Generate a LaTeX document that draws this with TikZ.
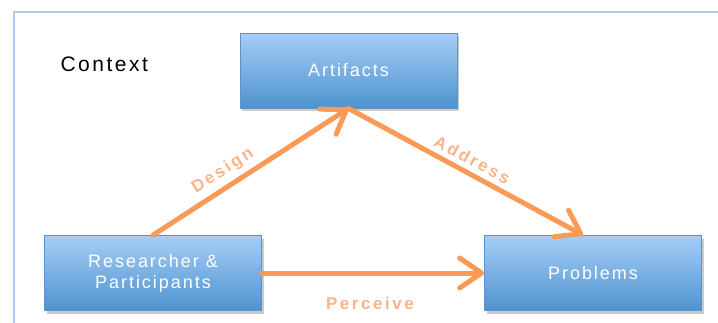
\documentclass[tikz,border=0pt]{standalone}
\usepackage{fontspec}
\setmainfont{Liberation Sans}
\newfontfamily\spaced[LetterSpace=11]{Liberation Sans}
\newfontfamily\spacedc[LetterSpace=12]{Liberation Sans}
\newfontfamily\spacedb[LetterSpace=15]{Liberation Sans Bold}
\usetikzlibrary{arrows.meta,shadows,calc}
\definecolor{framec}{HTML}{A9CCEC}
\definecolor{boxtop}{HTML}{A6CDF6}
\definecolor{boxbot}{HTML}{4E93CF}
\definecolor{boxedge}{HTML}{5E93C8}
\definecolor{arrowc}{HTML}{F99A56}
\definecolor{labelc}{HTML}{F8B48A}
\tikzset{
  bluebox/.style={draw=boxedge, line width=0.8pt, top color=boxtop, bottom color=boxbot,
    minimum width=217pt, minimum height=75pt, inner sep=0pt, text=white,
    font=\spaced\fontsize{18}{21}\selectfont, align=center,
    drop shadow={shadow xshift=2pt, shadow yshift=-3pt, opacity=0.35, fill=black!60}},
  flow/.style={draw=arrowc, line width=5pt, line cap=round,
    -{Straight Barb[length=22pt,width=30pt,line width=5pt,round]}},
  lbl/.style={text=labelc, font=\spacedb\fontsize{17}{19}\selectfont, inner sep=0pt}
}
\begin{document}
\begin{tikzpicture}[x=1pt,y=-1pt]
\useasboundingbox (0,0) rectangle (718,322);
\draw[framec, line width=2.5pt] (14,340) -- (14,12) -- (740,12);
\node[font=\spacedc\fontsize{21}{24}\selectfont, anchor=base west] (ctx) at (57,71) {Context};
\node[bluebox] (art) at (348.5,70.5) {Artifacts};
\node[bluebox] (res) at (153,273) {Researcher \&\\Participants};
\node[bluebox] (prob) at (593,273) {Problems};
\coordinate (addend) at ([xshift=-10pt]prob.north);
\draw[flow] (res.north) -- node[lbl, sloped, above=5pt, pos=0.4] (design) {Design} (art.south);
\draw[flow] (art.south) -- node[lbl, sloped, above=5pt, pos=0.5] (address) {Address} (addend);
\draw[flow] (res.east) -- (prob.west);
\node[lbl] (perceive) at (370,303) {Perceive};
\end{tikzpicture}
\end{document}
